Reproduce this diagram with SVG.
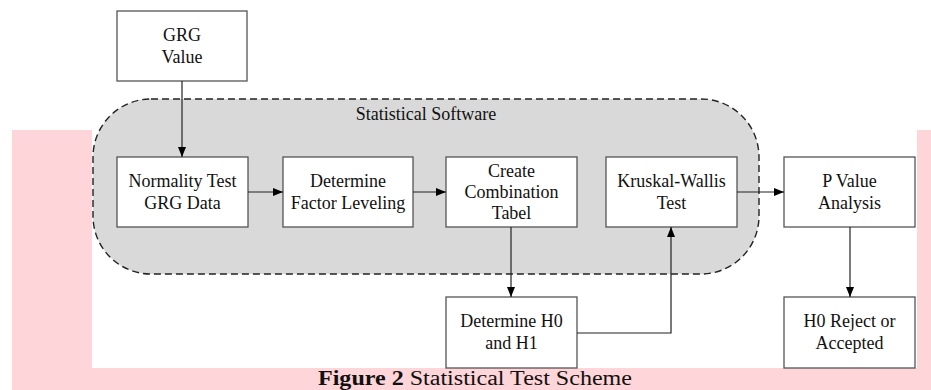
<svg xmlns="http://www.w3.org/2000/svg" width="931" height="390" viewBox="0 0 931 390">
<defs>
<marker id="arr" viewBox="0 0 10 8" refX="10" refY="4" markerWidth="10" markerHeight="8" markerUnits="userSpaceOnUse" orient="auto">
<path d="M0,0 L10,4 L0,8 Z" fill="#000"/>
</marker>
<style>
.box{fill:#fff;stroke:#555;stroke-width:1.3}
.t{font-family:"Liberation Serif","Times New Roman",serif;font-size:18px;fill:#111;text-anchor:middle}
.c{fill:none;stroke:#222;stroke-width:1.2;marker-end:url(#arr)}
</style>
</defs>
<rect x="0" y="0" width="931" height="390" fill="#fff"/>
<rect x="12" y="130" width="919" height="260" fill="#fed5d8"/>
<rect x="92" y="0" width="825" height="368" fill="#fff"/>
<g id="software">
<rect x="93" y="99" width="666" height="175" rx="58" ry="58" fill="#d9d9d9" stroke="#222" stroke-width="1.4" stroke-dasharray="7,4"/>
<text class="t" x="426" y="120">Statistical Software</text>
</g>
<g id="grg">
<rect class="box" x="117" y="11" width="130" height="70"/>
<text class="t" x="182" y="41">GRG</text>
<text class="t" x="182" y="63">Value</text>
</g>
<g id="normality">
<rect class="box" x="117" y="157" width="131" height="70"/>
<text class="t" x="182.5" y="187">Normality Test</text>
<text class="t" x="182.5" y="209">GRG Data</text>
</g>
<g id="factor">
<rect class="box" x="283" y="157" width="130" height="70"/>
<text class="t" x="348" y="187">Determine</text>
<text class="t" x="348" y="209">Factor Leveling</text>
</g>
<g id="combination">
<rect class="box" x="446" y="157" width="131" height="70"/>
<text class="t" x="511.5" y="177">Create</text>
<text class="t" x="511.5" y="198">Combination</text>
<text class="t" x="511.5" y="219">Tabel</text>
</g>
<g id="kruskal">
<rect class="box" x="606" y="157" width="131" height="70"/>
<text class="t" x="671.5" y="187">Kruskal-Wallis</text>
<text class="t" x="671.5" y="209">Test</text>
</g>
<g id="pvalue">
<rect class="box" x="784" y="157" width="131" height="70"/>
<text class="t" x="849.5" y="187">P Value</text>
<text class="t" x="849.5" y="209">Analysis</text>
</g>
<g id="hypothesis">
<rect class="box" x="446" y="297" width="131" height="71"/>
<text class="t" x="511.5" y="327">Determine H0</text>
<text class="t" x="511.5" y="349">and H1</text>
</g>
<g id="decision">
<rect class="box" x="784" y="297" width="131" height="71"/>
<text class="t" x="849.5" y="327">H0 Reject or</text>
<text class="t" x="849.5" y="349">Accepted</text>
</g>
<g id="connectors">
<path class="c" d="M182,81 V157"/>
<path class="c" d="M248,192 H283"/>
<path class="c" d="M413,192 H446"/>
<path class="c" d="M737,192 H784"/>
<path class="c" d="M511,227 V297"/>
<path class="c" d="M577,333 H671 V227"/>
<path class="c" d="M850,227 V297"/>
</g>
<text x="318" y="385" textLength="314" lengthAdjust="spacingAndGlyphs" style="font-family:'Liberation Serif','Times New Roman',serif;font-size:20px;fill:#111"><tspan font-weight="bold">Figure 2</tspan> Statistical Test Scheme</text>
</svg>
